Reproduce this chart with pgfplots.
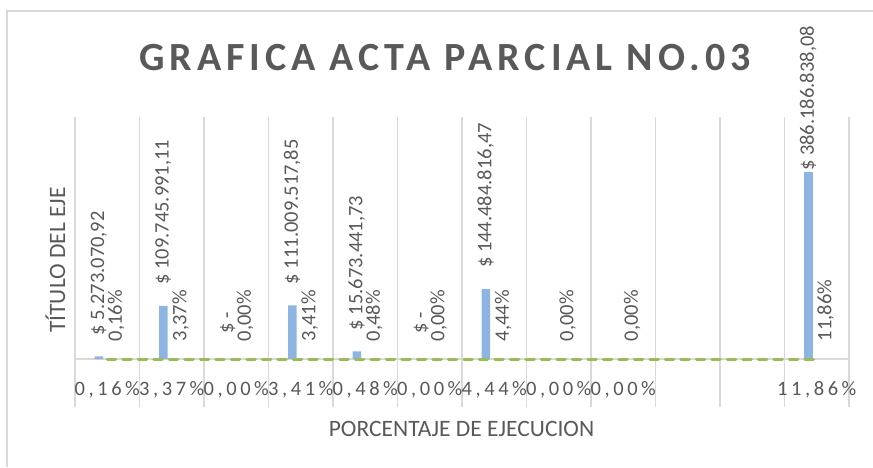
\documentclass[border=0pt]{standalone}
\usepackage{fontspec}
\setmainfont{Carlito}
\usepackage{pgfplots}
\pgfplotsset{compat=1.18}
\newfontfamily\tickfont{Carlito}[LetterSpace=17.5]
\newfontfamily\titlefont{Carlito}[LetterSpace=12.5]
\definecolor{txt}{HTML}{595959}
\definecolor{gridc}{HTML}{D9D9D9}
\definecolor{barc}{HTML}{8DB4E2}
\definecolor{linec}{HTML}{9BBB59}
\begin{document}
\begin{tikzpicture}
\useasboundingbox (0,0) rectangle (873pt,467pt);
\draw[gridc, line width=1.3pt] (7pt,0) -- (7pt,456pt) -- (873pt,456pt);
\begin{axis}[
  at={(75pt,108pt)}, anchor=south west,
  scale only axis, width=774pt, height=242pt,
  xmin=-0.5, xmax=11.5, ymin=0, ymax=500000000,
  axis x line*=bottom, axis y line=none,
  x axis line style={draw=gridc, line width=1.3pt, -},
  xtick={0,...,11},
  xticklabels={{0,16\%},{3,37\%},{0,00\%},{3,41\%},{0,48\%},{0,00\%},{4,44\%},{0,00\%},{0,00\%},{},{},{11,86\%}},
  major tick length=0pt,
  minor xtick={-0.5,0.5,...,11.5},
  minor tick length=48pt, tick align=outside,
  minor x tick style={draw=gridc, line width=1.3pt},
  xminorgrids, minor grid style={draw=gridc, line width=1.3pt},
  xticklabel style={font=\tickfont\fontsize{20.5pt}{24pt}\selectfont, text=txt, anchor=base, yshift=-36pt},
  ytick=\empty,
  clip=false,
  moneylabel/.style={nodes near coords, point meta=explicit symbolic,
    every node near coord/.append style={xshift=-8.5pt, yshift=#1, rotate=90, anchor=west, inner sep=0pt,
    font=\fontsize{20.5pt}{24pt}\selectfont, text=txt}},
]
\addplot[ybar, bar width=8.5pt, bar shift=-8.5pt, fill=barc, draw=none, moneylabel=21pt]
coordinates {(0,5273070.92)[\$ 5.273.070,92] (1,109745991.11)[\$ 109.745.991,11] (3,111009517.85)[\$ 111.009.517,85] (4,15673441.73)[\$ 15.673.441,73] (6,144484816.47)[\$ 144.484.816,47]};
\addplot[ybar, bar width=8.5pt, bar shift=-8.5pt, fill=barc, draw=none, moneylabel=25pt]
coordinates {(2,0)[\$ -] (5,0)[\$ -]};
\addplot[ybar, bar width=8.5pt, bar shift=-8.5pt, fill=barc, draw=none, moneylabel=1pt]
coordinates {(11,386186838.08)[\$ 386.186.838,08]};
\addplot[linec, line width=3pt, dash pattern=on 8.5pt off 7pt, line cap=round, mark=none,
  nodes near coords, point meta=explicit symbolic,
  every node near coord/.append style={xshift=9pt, yshift=16.5pt, rotate=90, anchor=west, inner sep=0pt,
    font=\fontsize{20.5pt}{24pt}\selectfont, text=txt}]
coordinates {(0,0.0016)[0,16\%] (1,0.0337)[3,37\%] (2,0)[0,00\%] (3,0.0341)[3,41\%] (4,0.0048)[0,48\%] (5,0)[0,00\%] (6,0.0444)[4,44\%] (7,0)[0,00\%] (8,0)[0,00\%] (9,0)[] (10,0)[] (11,0.1186)[11,86\%]};
\end{axis}
\node[font=\titlefont\bfseries\fontsize{40pt}{48pt}\selectfont, text=txt, anchor=base] at (445pt,396pt) {GRAFICA ACTA PARCIAL NO.03};
\node[font=\fontsize{23.5pt}{28pt}\selectfont, text=txt, rotate=90, anchor=base] at (65pt,207pt) {TÍTULO DEL EJE};
\node[font=\fontsize{23.5pt}{28pt}\selectfont, text=txt, anchor=base] at (461.5pt,31pt) {PORCENTAJE DE EJECUCION};
\end{tikzpicture}
\end{document}
